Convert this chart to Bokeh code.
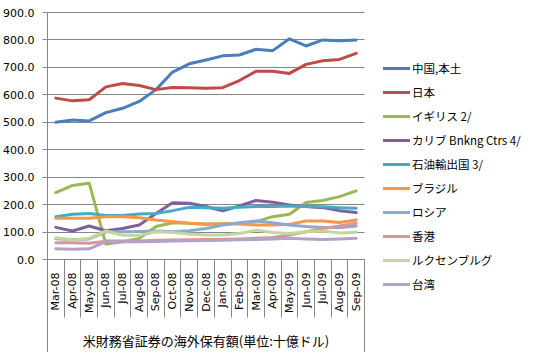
from bokeh.plotting import figure
from bokeh.models import (FixedTicker, LinearAxis, Legend, LegendItem, Range1d,
                          NumeralTickFormatter)
from bokeh.embed import file_html
from bokeh.resources import INLINE

months = ["Mar-08", "Apr-08", "May-08", "Jun-08", "Jul-08", "Aug-08", "Sep-08",
          "Oct-08", "Nov-08", "Dec-08", "Jan-09", "Feb-09", "Mar-09", "Apr-09",
          "May-09", "Jun-09", "Jul-09", "Aug-09", "Sep-09"]

china = [500, 508, 505, 535, 551, 576, 619, 683, 713, 727, 742, 745, 766, 761, 804, 778, 800, 797, 800]
japan = [588, 578, 582, 629, 641, 634, 619, 627, 626, 624, 626, 652, 686, 686, 678, 711, 724, 729, 751]
uk = [244, 270, 278, 56, 65, 77, 120, 134, 132, 128, 130, 132, 138, 156, 165, 208, 215, 229, 250]
carib = [117, 104, 122, 105, 113, 126, 168, 207, 205, 193, 177, 195, 215, 209, 199, 193, 189, 178, 171]
oil = [156, 165, 168, 160, 160, 166, 168, 178, 190, 189, 187, 190, 193, 193, 195, 193, 192, 189, 187]
brazil = [150, 150, 150, 156, 156, 152, 144, 138, 132, 129, 129, 129, 126, 126, 128, 140, 140, 135, 144]
russia = [76, 72, 75, 101, 101, 102, 104, 101, 105, 113, 126, 134, 140, 134, 126, 120, 117, 117, 122]
hk = [61, 61, 59, 67, 67, 67, 70, 71, 72, 73, 74, 75, 77, 80, 89, 101, 113, 122, 132]
lux = [79, 71, 77, 104, 88, 88, 101, 98, 93, 89, 89, 95, 107, 98, 95, 101, 104, 97, 99]
taiwan = [39, 37, 39, 65, 65, 65, 66, 67, 68, 69, 70, 72, 73, 75, 77, 75, 73, 75, 77]

series_names = ["中国,本土", "日本", "イギリス 2/", "カリブ Bnkng Ctrs 4/", "石油輸出国 3/",
                "ブラジル", "ロシア", "香港", "ルクセンブルグ", "台湾"]
series_values = [china, japan, uk, carib, oil, brazil, russia, hk, lux, taiwan]
colors = ["#4A7EBB", "#BE4B48", "#98B954", "#7D60A0", "#46AAC5",
          "#F79646", "#8EA9D1", "#D99694", "#C3D69B", "#B3A2C7"]

axis_title = "米財務省証券の海外保有額(単位:十億ドル)"
y_ticks = [0, 100, 200, 300, 400, 500, 600, 700, 800, 900]

grey = "#868686"
tick_font = "DejaVu Sans"
cjk_font = "Noto Sans CJK JP"

n = len(months)
xs = list(range(n))
bounds = [i - 0.5 for i in range(n + 1)]

# layout: value 900 sits 12px below the frame top, value 0 at 259px
frame_h = 352
px_per_unit = 247 / 900
y_top = 900 + 12 / px_per_unit
y_bottom = -(frame_h - 259) / px_per_unit

# the frame also holds the legend on the right; the chart area is 317px wide
plot_w = 317
frame_w = 478
px_per_cat = plot_w / n
x_end = -0.5 + frame_w / px_per_cat

p = figure(frame_width=frame_w, frame_height=frame_h, output_backend="svg", toolbar_location=None,
           x_range=Range1d(-0.5, x_end), y_range=Range1d(y_bottom, y_top),
           x_axis_location=None, y_axis_location=None, min_border=0)
p.outline_line_color = None
p.background_fill_color = "white"
p.border_fill_color = "white"
p.xgrid.grid_line_color = None
p.ygrid.grid_line_color = None

# y axis with labels (its line runs down through the category label area)
yaxis = LinearAxis(ticker=FixedTicker(ticks=y_ticks, minor_ticks=[]),
                   formatter=NumeralTickFormatter(format="0.0"))
yaxis.bounds = (y_bottom, 900)
yaxis.axis_line_color = grey
yaxis.major_tick_line_color = grey
yaxis.major_tick_out = 5
yaxis.major_tick_in = 0
yaxis.minor_tick_line_color = None
yaxis.major_label_text_font = tick_font
yaxis.major_label_text_font_size = "11px"
yaxis.major_label_text_color = "black"
yaxis.major_label_standoff = 8
p.add_layout(yaxis, "left")

# horizontal gridlines limited to the chart area: inward ticks drawn beneath the lines
grid_axis = LinearAxis(ticker=FixedTicker(ticks=y_ticks, minor_ticks=[]), fixed_location=-0.5)
grid_axis.level = "underlay"
grid_axis.axis_line_color = None
grid_axis.major_tick_line_color = grey
grid_axis.major_tick_out = 0
grid_axis.major_tick_in = plot_w
grid_axis.minor_tick_line_color = None
grid_axis.major_label_text_color = None
p.add_layout(grid_axis, "left")

# spacer on the far left
spacer_l = LinearAxis(ticker=FixedTicker(ticks=[], minor_ticks=[]))
spacer_l.axis_line_color = None
spacer_l.major_tick_line_color = None
spacer_l.minor_tick_line_color = None
spacer_l.major_tick_out = 13
spacer_l.major_label_standoff = 0
p.add_layout(spacer_l, "left")

# x axis at y=0: month labels at category centres
xaxis = LinearAxis(ticker=FixedTicker(ticks=xs, minor_ticks=[]), fixed_location=0)
xaxis.bounds = (-0.5, n - 0.5)
xaxis.major_label_overrides = {i: m for i, m in enumerate(months)}
xaxis.major_label_orientation = 1.5707963
xaxis.axis_line_color = grey
xaxis.major_tick_line_color = None
xaxis.major_tick_out = 0
xaxis.major_tick_in = 0
xaxis.minor_tick_line_color = None
xaxis.major_label_text_font = tick_font
xaxis.major_label_text_font_size = "11px"
xaxis.major_label_text_color = "black"
xaxis.major_label_standoff = 13
p.add_layout(xaxis, "below")

# category boundary lines and the outer-level title
mid = (n - 1) / 2
xaxis2 = LinearAxis(ticker=FixedTicker(ticks=[mid], minor_ticks=bounds), fixed_location=0)
xaxis2.bounds = (-0.5, n - 0.5)
xaxis2.major_label_overrides = {mid: axis_title}
xaxis2.axis_line_color = None
xaxis2.major_tick_line_color = None
xaxis2.major_tick_out = 0
xaxis2.major_tick_in = 0
xaxis2.minor_tick_line_color = grey
xaxis2.minor_tick_in = 0
xaxis2.minor_tick_out = 58
xaxis2.major_label_text_font = cjk_font
xaxis2.major_label_text_font_size = "13px"
xaxis2.major_label_text_color = "black"
xaxis2.major_label_standoff = 13
p.add_layout(xaxis2, "below")

# right edge line of the outer level
xaxis3 = LinearAxis(ticker=FixedTicker(ticks=[], minor_ticks=[n - 0.5]), fixed_location=0)
xaxis3.bounds = (-0.5, n - 0.5)
xaxis3.axis_line_color = None
xaxis3.major_tick_line_color = None
xaxis3.minor_tick_line_color = grey
xaxis3.minor_tick_in = 0
xaxis3.minor_tick_out = 100
p.add_layout(xaxis3, "below")

items = []
for name, vals, c in zip(series_names, series_values, colors):
    r = p.line(xs, vals, line_color=c, line_width=3, line_join="round", line_cap="round")
    items.append(LegendItem(label=name, renderers=[r]))

legend = Legend(items=items, location=(plot_w + 19, 58))
legend.label_text_font = cjk_font
legend.label_text_font_size = "11.5px"
legend.label_text_color = "black"
legend.label_height = 20
legend.glyph_height = 20
legend.glyph_width = 27
legend.label_standoff = 2
legend.spacing = 4
legend.padding = 0
legend.margin = 0
legend.border_line_color = None
legend.background_fill_alpha = 0
p.add_layout(legend, "center")

open("out.html", "w").write(file_html(p, INLINE))
